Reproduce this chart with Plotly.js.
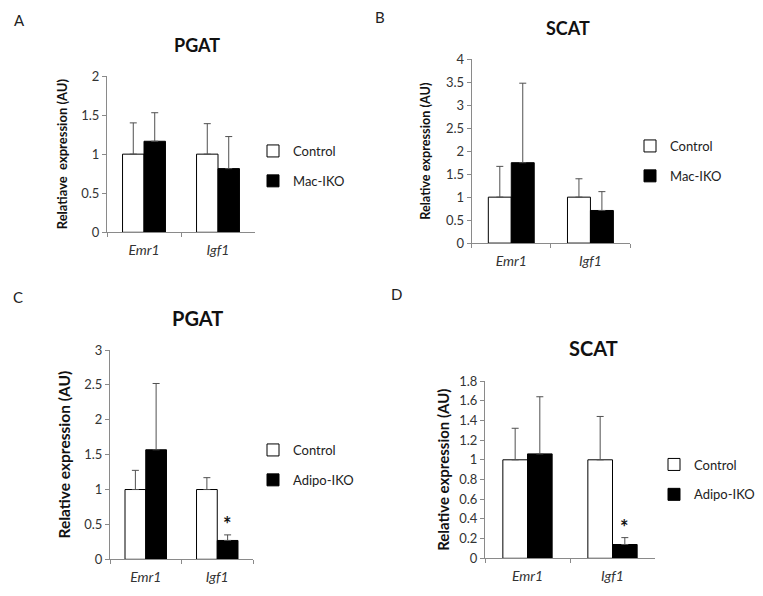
<!DOCTYPE html>
<html>
<head>
<meta charset="utf-8">
<script src="https://cdn.plot.ly/plotly-3.0.1.min.js"></script>
<style>html,body{margin:0;padding:0;background:#fff;}#chart{width:763px;height:596px;}</style>
</head>
<body>
<div id="chart"></div>
<script>
// ---- data ----
const categories = ['Emr1', 'Igf1'];

const aControl = [1.0, 1.0];
const aControlErr = [0.40, 0.39];
const aMacIKO = [1.165, 0.815];
const aMacIKOErr = [0.365, 0.41];

const bControl = [1.0, 1.0];
const bControlErr = [0.67, 0.40];
const bMacIKO = [1.75, 0.71];
const bMacIKOErr = [1.73, 0.41];

const cControl = [1.0, 1.0];
const cControlErr = [0.275, 0.17];
const cAdipoIKO = [1.57, 0.27];
const cAdipoIKOErr = [0.95, 0.08];

const dControl = [1.0, 1.0];
const dControlErr = [0.32, 0.44];
const dAdipoIKO = [1.06, 0.14];
const dAdipoIKOErr = [0.58, 0.07];

const panelTitles = ['PGAT', 'SCAT', 'PGAT', 'SCAT'];
const panelLetters = ['A', 'B', 'C', 'D'];
const yTitles = ['Relatiave  expression (AU)', 'Relative expression (AU)', 'Relative expression (AU)', 'Relative expression (AU)'];
const yRanges = [[0, 2], [0, 4], [0, 3], [0, 1.8]];
const yDtick = [0.5, 0.5, 0.5, 0.2];
const seriesNames = [['Control', 'Mac-IKO'], ['Control', 'Mac-IKO'], ['Control', 'Adipo-IKO'], ['Control', 'Adipo-IKO']];

// ---- styling ----
const W = 763, H = 596;
const FONT = 'Lato, "Open Sans", sans-serif';
const AXIS_COLOR = '#8a8a8a';
const ERR_COLOR = '#505050';

function px2x(p) { return p / W; }
function px2y(p) { return 1 - p / H; }

// pixel geometry of each panel: [xLeft, xRight, yTop, yBottom]
const geo = [
  [107, 255, 76, 232.3],
  [471.7, 630, 59.3, 243.1],
  [110, 253, 350, 559.3],
  [485, 655, 381, 558.3]
];

const data = [];
const panelData = [
  [aControl, aControlErr, aMacIKO, aMacIKOErr],
  [bControl, bControlErr, bMacIKO, bMacIKOErr],
  [cControl, cControlErr, cAdipoIKO, cAdipoIKOErr],
  [dControl, dControlErr, dAdipoIKO, dAdipoIKOErr]
];
const legendIds = ['legend', 'legend2', 'legend3', 'legend4'];

panelData.forEach((pd, i) => {
  const sfx = i === 0 ? '' : String(i + 1);
  const errStyle = (arr) => ({
    type: 'data', array: arr, arrayminus: arr.map(() => 0), symmetric: false,
    color: ERR_COLOR, thickness: 1, width: 3.5, visible: true
  });
  data.push({
    type: 'bar', x: categories, y: pd[0], name: seriesNames[i][0],
    xaxis: 'x' + sfx, yaxis: 'y' + sfx, legend: legendIds[i], legendgroup: 'c' + i,
    marker: { color: '#ffffff', line: { color: '#000000', width: 1 } },
    error_y: errStyle(pd[1]), hoverinfo: 'x+y'
  });
  data.push({
    type: 'bar', x: categories, y: pd[2], name: seriesNames[i][1],
    xaxis: 'x' + sfx, yaxis: 'y' + sfx, legend: legendIds[i], legendgroup: 'k' + i,
    marker: { color: '#000000', line: { color: '#000000', width: 1 } },
    error_y: errStyle(pd[3]), hoverinfo: 'x+y'
  });
});

const layout = {
  width: W, height: H,
  margin: { l: 0, r: 0, t: 0, b: 0 },
  paper_bgcolor: '#ffffff', plot_bgcolor: 'rgba(0,0,0,0)',
  barmode: 'group', bargap: 0.42, bargroupgap: 0,
  font: { family: FONT, color: '#333333', size: 12 },
  showlegend: true,
  annotations: [],
  shapes: []
};

const titleSizes = [18, 18, 20, 20];
const yTitleSizes = [13, 12.7, 15.5, 15];
const yStandoff = [10.5, 12, 9.5, 5.5];

geo.forEach((g, i) => {
  const sfx = i === 0 ? '' : String(i + 1);
  layout['xaxis' + sfx] = {
    domain: [px2x(g[0]), px2x(g[1])],
    anchor: 'y' + sfx,
    type: 'category',
    categoryorder: 'array', categoryarray: categories,
    showline: true, linecolor: AXIS_COLOR, linewidth: 1,
    ticks: 'outside', ticklen: 4, tickcolor: AXIS_COLOR, tickson: 'boundaries',
    tickfont: { family: FONT, size: 14, style: 'italic', color: '#333333' },
    ticklabelstandoff: 5,
    showgrid: false, zeroline: false, fixedrange: true
  };
  layout['yaxis' + sfx] = {
    domain: [px2y(g[3]), px2y(g[2])],
    anchor: 'x' + sfx,
    range: yRanges[i], dtick: yDtick[i], tick0: 0,
    showline: true, linecolor: AXIS_COLOR, linewidth: 1,
    ticks: 'outside', ticklen: 4, tickcolor: AXIS_COLOR,
    tickfont: { family: FONT, size: 13, color: '#333333' },
    showgrid: false, zeroline: false, fixedrange: true,
    title: { text: yTitles[i], font: { family: FONT, size: yTitleSizes[i], color: '#111111', weight: 'bold' }, standoff: yStandoff[i] }
  };
});

// panel titles
const titlePos = [[197, 45], [568, 27.5], [197.7, 318], [593, 347.5]];
titlePos.forEach((p, i) => {
  layout.annotations.push({
    xref: 'paper', yref: 'paper', x: px2x(p[0]), y: px2y(p[1]),
    xanchor: 'center', yanchor: 'middle', showarrow: false,
    text: '<b>' + panelTitles[i] + '</b>',
    font: { family: FONT, size: titleSizes[i], color: '#111111' }
  });
});

// panel letters
const letterPos = [[19, 20], [380, 17], [18, 297], [396, 294]];
letterPos.forEach((p, i) => {
  layout.annotations.push({
    xref: 'paper', yref: 'paper', x: px2x(p[0]), y: px2y(p[1]),
    xanchor: 'center', yanchor: 'middle', showarrow: false,
    text: panelLetters[i],
    font: { family: FONT, size: 15, color: '#222222' }
  });
});

// significance stars on knockout Igf1 bars (panels C and D)
[[2, cAdipoIKO, cAdipoIKOErr, 10.5], [3, dAdipoIKO, dAdipoIKOErr, 12]].forEach(s => {
  const i = s[0], sfx = String(i + 1);
  layout.annotations.push({
    xref: 'x' + sfx, yref: 'y' + sfx, x: categories[1], y: s[1][1] + s[2][1],
    xshift: s[3], yshift: -3, xanchor: 'center', yanchor: 'bottom', showarrow: false,
    text: '<b>*</b>', font: { family: FONT, size: 20, color: '#111111' }
  });
});

// legends
const legendPos = [[253, 166], [630, 161], [253, 465], [654, 479.5]];
legendPos.forEach((p, i) => {
  layout[legendIds[i]] = {
    x: px2x(p[0]), y: px2y(p[1]), xanchor: 'left', yanchor: 'middle',
    xref: 'paper', yref: 'paper',
    bgcolor: 'rgba(0,0,0,0)', borderwidth: 0,
    font: { family: FONT, size: 13, color: '#222222' },
    tracegroupgap: 10, itemclick: false, itemdoubleclick: false
  };
});

Plotly.newPlot('chart', data, layout, { displayModeBar: false, staticPlot: true });
</script>
</body>
</html>
